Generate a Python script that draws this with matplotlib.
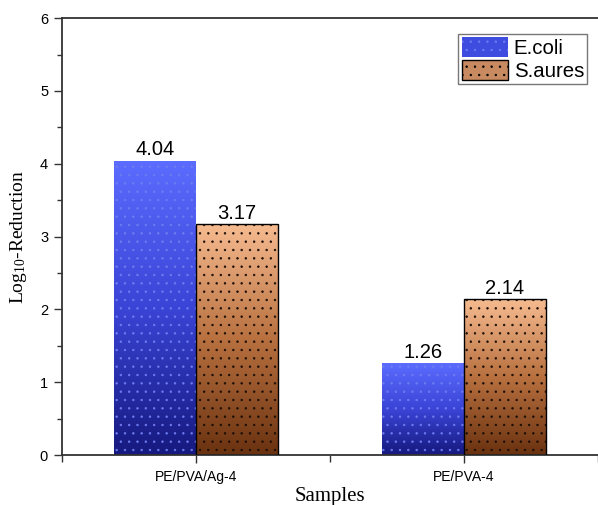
import numpy as np
import matplotlib.pyplot as plt
from matplotlib.colors import LinearSegmentedColormap
from matplotlib.patches import Patch
from matplotlib.ticker import MultipleLocator

samples = ["PE/PVA/Ag-4", "PE/PVA-4"]
ecoli = [4.04, 1.26]
saures = [3.17, 2.14]

plt.rcParams['hatch.linewidth'] = 0.5
plt.rcParams['mathtext.default'] = 'regular'

cm_blue = LinearSegmentedColormap.from_list("b", ["#16197e", "#3a44d6", "#5b6cff"])
cm_brown = LinearSegmentedColormap.from_list("o", ["#6a3210", "#b8703f", "#f6bb90"])

fig = plt.figure(figsize=(5.98, 5.05), dpi=100)
ax = fig.add_axes([0.1037, 0.099, 0.8963, 0.865])

x = np.arange(len(samples))
w = 0.305
grad = np.linspace(0, 1, 256).reshape(-1, 1)


def gradient_bars(xs, vals, cmap, hatch, hcolor, edge, lw):
    bars = ax.bar(xs, vals, w, facecolor="none", edgecolor=hcolor, hatch=hatch,
                  linewidth=0, zorder=3)
    for b in bars:
        x0, y0 = b.get_x(), b.get_y()
        im = ax.imshow(grad, cmap=cmap, origin="lower", aspect="auto",
                       extent=[x0, x0 + b.get_width(), y0, y0 + b.get_height()],
                       zorder=2)
        im.set_clip_path(b)
        if lw > 0:
            ax.add_patch(plt.Rectangle((x0, y0), b.get_width(), b.get_height(),
                                       fill=False, edgecolor=edge, linewidth=lw, zorder=4))
    return bars


b1 = gradient_bars(x - w / 2, ecoli, cm_blue, "..", "#6f7cf0", None, 0)
b2 = gradient_bars(x + w / 2, saures, cm_brown, "..", "#1a0d05", "black", 1.0)

for xs, vals in [(x - w / 2, ecoli), (x + w / 2, saures)]:
    for xi, v in zip(xs, vals):
        ax.text(xi, v + 0.02, f"{v:.2f}", ha="center", va="bottom",
                fontsize=14.5, family="Liberation Sans")

ax.set_xlim(-0.5, 1.5)
ax.set_ylim(0, 6)
ax.set_xticks(x)
ax.set_xticklabels(samples, fontsize=10, family="Liberation Sans")
ax.xaxis.set_minor_locator(MultipleLocator(0.5))
ax.yaxis.set_major_locator(MultipleLocator(1))
ax.yaxis.set_minor_locator(MultipleLocator(0.5))
for lab in ax.get_yticklabels():
    lab.set_family("Liberation Sans")
    lab.set_fontsize(10.5)
ax.tick_params(which="major", length=6, width=1, color="#333333", pad=4)
ax.tick_params(which="minor", length=3.5, width=1, color="#333333")
ax.tick_params(axis="x", which="minor", length=5)
ax.tick_params(axis="x", which="major", pad=5)
ax.spines["right"].set_visible(False)
for s in ["left", "bottom", "top"]:
    ax.spines[s].set_color("#333333")
    ax.spines[s].set_linewidth(1.3)

ax.set_ylabel("Log$_{10}$-Reduction", family="Liberation Serif", fontsize=14)
ax.yaxis.set_label_coords(-0.062, 0.5)
ax.set_xlabel("Samples", family="Liberation Serif", fontsize=15, labelpad=2)

handles = [Patch(facecolor="#3e4ce0", edgecolor="#6f7cf0", hatch="..", linewidth=0),
           Patch(facecolor="#c88a60", edgecolor="black", hatch="..", linewidth=1)]
leg = ax.legend(handles, ["E.coli", "S.aures"], loc="upper right",
                bbox_to_anchor=(0.9795, 0.963), fancybox=False, edgecolor="#555555",
                prop={"family": "Liberation Sans", "size": 14.7},
                handlelength=2.3, handleheight=1.1, handletextpad=0.25,
                borderpad=0.15, labelspacing=0.1, borderaxespad=0)
leg.get_frame().set_linewidth(1.0)

fig.savefig("out.png", dpi=100)
